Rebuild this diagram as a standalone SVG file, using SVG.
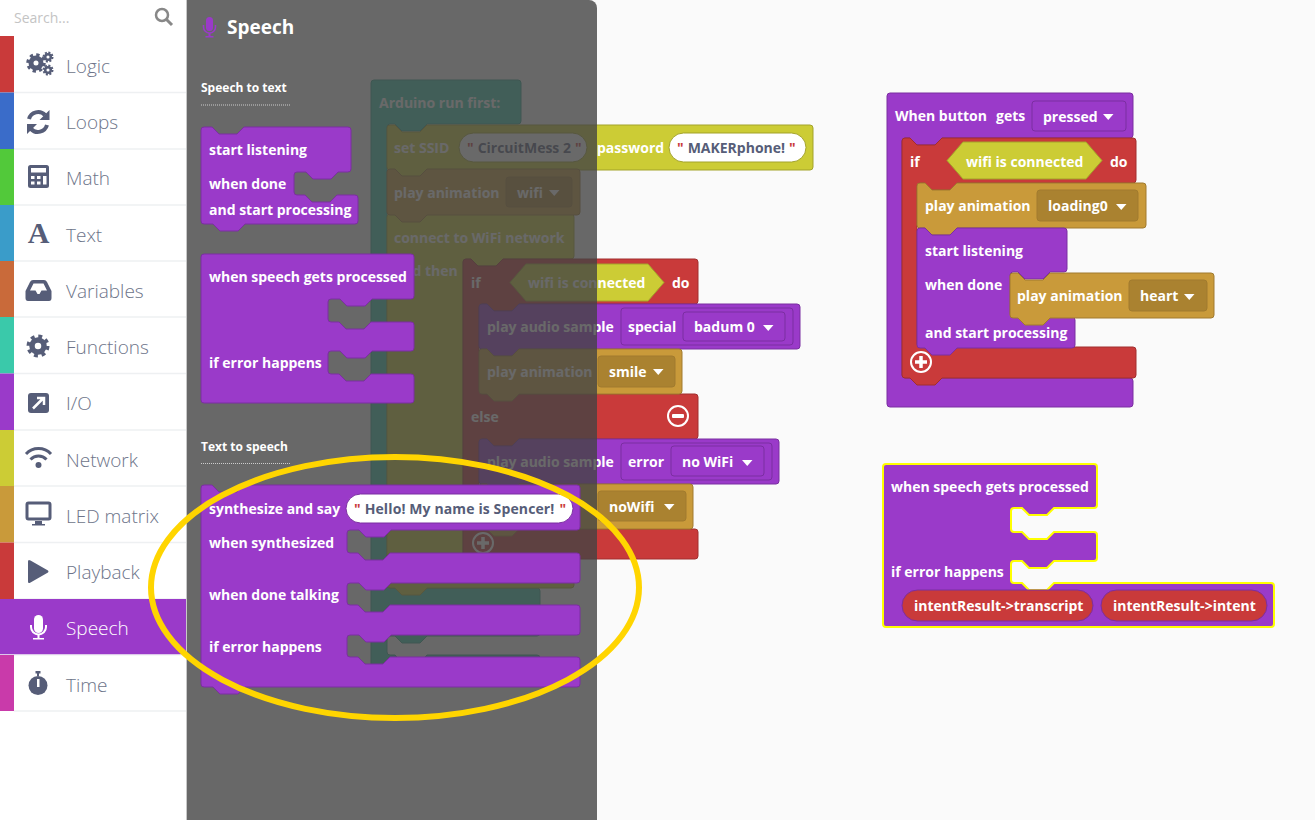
<svg xmlns="http://www.w3.org/2000/svg" width="1315" height="820" viewBox="0 0 1315 820">
<style>
.t{font-family:"Open Sans","Noto Sans","Liberation Sans",sans-serif;font-weight:700;font-size:14px;fill:#fff}
.d{fill:#565d78}
.nav{font-family:"Open Sans","Noto Sans","Liberation Sans",sans-serif;font-weight:300;font-size:19px;fill:#6d7489}
.hd{font-family:"Open Sans","Noto Sans","Liberation Sans",sans-serif;font-weight:700;font-size:12px;fill:#fff}
.q{fill:#c93a3a}
.pu{fill:#9a3ac9;stroke:#7b2ea1}
.re{fill:#c93a3a;stroke:#a12e2e}
.go{fill:#c99a3a;stroke:#a17b2e}
.ye{fill:#cccc35;stroke:#a3a32a}
.te{fill:#3ac9aa;stroke:#2ea188}
.gf{fill:#aa8230;stroke:#a17b2e}
.pf{fill:#9a3ac9;stroke:#7b2ea1}
.wf{fill:#fff;stroke:#a3a32a}
.hi{fill:#9a3ac9;stroke:#ff0;stroke-width:2}
.ic{fill:#565d78}
.is{fill:none;stroke:#565d78}
.sep{stroke:#eef0f2;stroke-width:1.5}
</style>
<defs>
<path id="arr" d="M0 0h10.500l-5.250 6z" fill="#fff"/>
</defs>
<rect width="1315" height="820" fill="#fafafa"/>

<g id="workspace">
<g id="arduino-block">
<path class="te" d="M371 83a3 3 0 0 1 3-3H518a3 3 0 0 1 3 3V121a3 3 0 0 1-3 3H427l-7 7h-18l-7-7H390a3 3 0 0 0-3 3V585a3 3 0 0 0 3 3H537a3 3 0 0 1 3 3V633a3 3 0 0 1-3 3H427l-7 7h-18l-7-7H390a3 3 0 0 0-3 3V652a3 3 0 0 0 3 3h5l7 7h18l7-7H537a3 3 0 0 1 3 3V670H371Z"/>
<text class="t" x="379" y="108">Arduino run first:</text>
</g>
<g id="connect-block">
<path class="ye" d="M387 217a3 3 0 0 1 3-3H571a3 3 0 0 1 3 3V256a3 3 0 0 1-3 3H503l-7 7h-18l-7-7H466a3 3 0 0 0-3 3V556a3 3 0 0 0 3 3H571a3 3 0 0 1 3 3V585a3 3 0 0 1-3 3H427l-7 7h-18l-7-7H390a3 3 0 0 1-3-3Z"/>
<text class="t" x="394" y="243">connect to WiFi network</text>
<text class="t" x="412.500" y="276">d then</text>
</g>
<g id="ssid-block">
<path class="ye" d="M387 128a3 3 0 0 1 3-3h5l7 7h18l7-7H810a3 3 0 0 1 3 3V167a3 3 0 0 1-3 3H427l-7 7h-18l-7-7H390a3 3 0 0 1-3-3Z"/>
<text class="t" x="394" y="153">set SSID</text>
<rect class="wf" x="459" y="133" width="128" height="29" rx="14.500"/>
<text class="t" x="467" y="153"><tspan class="q">"</tspan><tspan class="d" dx="4">CircuitMess 2</tspan><tspan class="q" dx="4">"</tspan></text>
<text class="t" x="597" y="153">password</text>
<rect class="wf" x="669" y="133" width="137" height="29" rx="14.500"/>
<text class="t" x="677" y="153"><tspan class="q">"</tspan><tspan class="d" dx="4">MAKERphone!</tspan><tspan class="q" dx="4">"</tspan></text>
</g>
<g id="anim-wifi-block">
<path class="go" d="M387 172a3 3 0 0 1 3-3h5l7 7h18l7-7H577a3 3 0 0 1 3 3V212a3 3 0 0 1-3 3H427l-7 7h-18l-7-7H390a3 3 0 0 1-3-3Z"/>
<text class="t" x="394" y="198">play animation</text>
<rect class="gf" x="506" y="177" width="66" height="30" rx="3"/>
<text class="t" x="517" y="198">wifi</text>
<use href="#arr" x="549" y="190"/>
</g>
<g id="if-block">
<path class="re" d="M463 262a3 3 0 0 1 3-3h5l7 7h18l7-7H695a3 3 0 0 1 3 3V301a3 3 0 0 1-3 3H519l-7 7h-18l-7-7H482a3 3 0 0 0-3 3V391a3 3 0 0 0 3 3H695a3 3 0 0 1 3 3V436a3 3 0 0 1-3 3H519l-7 7h-18l-7-7H482a3 3 0 0 0-3 3V526a3 3 0 0 0 3 3H695a3 3 0 0 1 3 3V556a3 3 0 0 1-3 3H466a3 3 0 0 1-3-3Z"/>
<text class="t" x="471" y="288">if</text>
<path class="ye" d="M510 282.500L526 264H648L664 282.500L648 301H526Z"/>
<text class="t" x="528" y="288">wifi is connected</text>
<text class="t" x="672" y="288">do</text>
<text class="t" x="471" y="422">else</text>
<circle cx="678" cy="416" r="10" fill="none" stroke="#fff" stroke-width="2"/>
<rect x="672" y="414" width="12" height="4" rx="1" fill="#fff"/>
<circle cx="483" cy="543" r="10" fill="none" stroke="#fff" stroke-width="2"/>
<path d="M477 543h12M483 537v12" stroke="#fff" stroke-width="3.500"/>
</g>
<g id="audio-special">
<path class="pu" d="M479 307a3 3 0 0 1 3-3h5l7 7h18l7-7H797a3 3 0 0 1 3 3V346a3 3 0 0 1-3 3H519l-7 7h-18l-7-7H482a3 3 0 0 1-3-3Z"/>
<text class="t" x="487" y="332">play audio sample</text>
<rect class="pf" x="621" y="308" width="172" height="37" rx="3"/>
<text class="t" x="628" y="332">special</text>
<rect class="pf" x="683" y="312" width="102" height="29" rx="3"/>
<text class="t" x="694" y="332">badum 0</text>
<use href="#arr" x="763" y="325"/>
</g>
<g id="anim-smile">
<path class="go" d="M479 352a3 3 0 0 1 3-3h5l7 7h18l7-7H679a3 3 0 0 1 3 3V391a3 3 0 0 1-3 3H519l-7 7h-18l-7-7H482a3 3 0 0 1-3-3Z"/>
<text class="t" x="487" y="377">play animation</text>
<rect class="gf" x="598" y="356" width="77" height="31" rx="3"/>
<text class="t" x="609" y="377">smile</text>
<use href="#arr" x="653" y="369"/>
</g>
<g id="audio-error">
<path class="pu" d="M479 442a3 3 0 0 1 3-3h5l7 7h18l7-7H776a3 3 0 0 1 3 3V481a3 3 0 0 1-3 3H519l-7 7h-18l-7-7H482a3 3 0 0 1-3-3Z"/>
<text class="t" x="487" y="467">play audio sample</text>
<rect class="pf" x="621" y="443" width="151" height="37" rx="3"/>
<text class="t" x="628" y="467">error</text>
<rect class="pf" x="671" y="446" width="93" height="30" rx="3"/>
<text class="t" x="682" y="467">no WiFi</text>
<use href="#arr" x="742" y="460"/>
</g>
<g id="anim-nowifi">
<path class="go" d="M479 487a3 3 0 0 1 3-3h5l7 7h18l7-7H690a3 3 0 0 1 3 3V526a3 3 0 0 1-3 3H519l-7 7h-18l-7-7H482a3 3 0 0 1-3-3Z"/>
<rect class="gf" x="598" y="491" width="88" height="30" rx="3"/>
<text class="t" x="609" y="512">noWifi</text>
<use href="#arr" x="664" y="504"/>
</g>

<g id="button-block">
<path class="pu" d="M887 96a3 3 0 0 1 3-3H1130a3 3 0 0 1 3 3V135a3 3 0 0 1-3 3H942l-7 7h-18l-7-7H905a3 3 0 0 0-3 3V375a3 3 0 0 0 3 3H1130a3 3 0 0 1 3 3V404a3 3 0 0 1-3 3H890a3 3 0 0 1-3-3Z"/>
<text class="t" x="895" y="121">When button</text>
<text class="t" x="996" y="121">gets</text>
<rect class="pf" x="1032" y="101" width="94" height="30" rx="3"/>
<text class="t" x="1043" y="122">pressed</text>
<use href="#arr" x="1103" y="114"/>
</g>
<g id="if-wifi">
<path class="re" d="M902 141a3 3 0 0 1 3-3h5l7 7h18l7-7H1133a3 3 0 0 1 3 3V180a3 3 0 0 1-3 3H957l-7 7h-18l-7-7H920a3 3 0 0 0-3 3V344a3 3 0 0 0 3 3H1133a3 3 0 0 1 3 3V375a3 3 0 0 1-3 3H942l-7 7h-18l-7-7H905a3 3 0 0 1-3-3Z"/>
<text class="t" x="910" y="167">if</text>
<path class="ye" d="M947 160.500L963 142H1086L1102 160.500L1086 179H963Z"/>
<text class="t" x="966" y="167">wifi is connected</text>
<text class="t" x="1110" y="167">do</text>
<circle cx="921" cy="362" r="10" fill="none" stroke="#fff" stroke-width="2"/>
<path d="M915 362h12M921 356v12" stroke="#fff" stroke-width="3.500"/>
</g>
<g id="anim-loading">
<path class="go" d="M917 186a3 3 0 0 1 3-3h5l7 7h18l7-7H1143a3 3 0 0 1 3 3V225a3 3 0 0 1-3 3H957l-7 7h-18l-7-7H920a3 3 0 0 1-3-3Z"/>
<text class="t" x="925" y="211">play animation</text>
<rect class="gf" x="1037" y="190" width="101" height="31" rx="3"/>
<text class="t" x="1048" y="211">loading0</text>
<use href="#arr" x="1116" y="204"/>
</g>
<g id="listen-block">
<path class="pu" d="M917 231a3 3 0 0 1 3-3h5l7 7h18l7-7H1064a3 3 0 0 1 3 3V269a3 3 0 0 1-3 3H1050l-7 7h-18l-7-7H1013a3 3 0 0 0-3 3V314a3 3 0 0 0 3 3H1072a3 3 0 0 1 3 3V345a3 3 0 0 1-3 3H957l-7 7h-18l-7-7H920a3 3 0 0 1-3-3Z"/>
<text class="t" x="925" y="256">start listening</text>
<text class="t" x="925" y="290">when done</text>
<text class="t" x="925" y="338">and start processing</text>
</g>
<g id="anim-heart">
<path class="go" d="M1010 276a3 3 0 0 1 3-3h5l7 7h18l7-7H1211a3 3 0 0 1 3 3V315a3 3 0 0 1-3 3H1050l-7 7h-18l-7-7H1013a3 3 0 0 1-3-3Z"/>
<text class="t" x="1017" y="301">play animation</text>
<rect class="gf" x="1129" y="280" width="78" height="31" rx="3"/>
<text class="t" x="1140" y="301">heart</text>
<use href="#arr" x="1184" y="294"/>
</g>

<g id="selected-block">
<path class="hi" d="M883 467a3 3 0 0 1 3-3H1094a3 3 0 0 1 3 3V505a3 3 0 0 1-3 3H1054l-7 7h-18l-7-7H1014a3 3 0 0 0-3 3V529a3 3 0 0 0 3 3h8l7 7h18l7-7H1094a3 3 0 0 1 3 3V558a3 3 0 0 1-3 3H1054l-7 7h-18l-7-7H1014a3 3 0 0 0-3 3V580a3 3 0 0 0 3 3h8l7 7h18l7-7H1271a3 3 0 0 1 3 3V624a3 3 0 0 1-3 3H886a3 3 0 0 1-3-3Z"/>
<text class="t" x="891" y="492">when speech gets processed</text>
<text class="t" x="891" y="577">if error happens</text>
<rect class="re" x="902" y="590" width="191" height="31" rx="15.500" style="stroke:#7b2ea1"/>
<text class="t" x="914" y="611">intentResult-&gt;transcript</text>
<rect class="re" x="1101" y="590" width="166" height="31" rx="15.500" style="stroke:#7b2ea1"/>
<text class="t" x="1113" y="611">intentResult-&gt;intent</text>
</g>
</g>

<path id="flyout-bg" d="M187 0H589a8 8 0 0 1 8 8V820H187Z" fill="#444" fill-opacity=".8"/>

<g id="flyout">
<g id="flyout-title">
<g fill="#9a3ac9"><rect x="206" y="17" width="7" height="14" rx="3.500"/><path d="M203.500 25v2a6 6 0 0 0 12 0v-2" fill="none" stroke="#9a3ac9" stroke-width="1.500"/><path d="M208.500 33h2v3h3v1.500h-8v-1.500h3Z"/></g>
<text x="227" y="34" font-family="Open Sans,Noto Sans,sans-serif" font-weight="700" font-size="19" fill="#fff">Speech</text>
<text class="hd" x="201" y="92">Speech to text</text>
<path d="M201 105H290" stroke="#ccc" stroke-dasharray="1 1"/>
<text class="hd" x="201" y="451">Text to speech</text>
<path d="M201 463.500H290" stroke="#ccc" stroke-dasharray="1 1"/>
</g>
<g id="fly-listen">
<path class="pu" d="M201 130a3 3 0 0 1 3-3h8l7 7h18l7-7H348a3 3 0 0 1 3 3V169a3 3 0 0 1-3 3H338l-7 7h-18l-7-7H297a3 3 0 0 0-3 3V192a3 3 0 0 0 3 3h8l7 7h18l7-7H355a3 3 0 0 1 3 3V221a3 3 0 0 1-3 3H245l-7 7h-18l-7-7H204a3 3 0 0 1-3-3Z"/>
<text class="t" x="209" y="155">start listening</text>
<text class="t" x="209" y="189">when done</text>
<text class="t" x="209" y="215">and start processing</text>
</g>
<g id="fly-processed">
<path class="pu" d="M201 257a3 3 0 0 1 3-3H411a3 3 0 0 1 3 3V296a3 3 0 0 1-3 3H372l-7 7h-18l-7-7H331a3 3 0 0 0-3 3V319a3 3 0 0 0 3 3h8l7 7h18l7-7H411a3 3 0 0 1 3 3V348a3 3 0 0 1-3 3H372l-7 7h-18l-7-7H331a3 3 0 0 0-3 3V371a3 3 0 0 0 3 3h8l7 7h18l7-7H411a3 3 0 0 1 3 3V400a3 3 0 0 1-3 3H204a3 3 0 0 1-3-3Z"/>
<text class="t" x="209" y="282">when speech gets processed</text>
<text class="t" x="209" y="368">if error happens</text>
</g>
<g id="fly-synth">
<path class="pu" d="M201 488a3 3 0 0 1 3-3h8l7 7h18l7-7H577a3 3 0 0 1 3 3V527a3 3 0 0 1-3 3H391l-7 7h-18l-7-7H350a3 3 0 0 0-3 3V550a3 3 0 0 0 3 3h8l7 7h18l7-7H577a3 3 0 0 1 3 3V580a3 3 0 0 1-3 3H391l-7 7h-18l-7-7H350a3 3 0 0 0-3 3V602a3 3 0 0 0 3 3h8l7 7h18l7-7H577a3 3 0 0 1 3 3V632a3 3 0 0 1-3 3H391l-7 7h-18l-7-7H350a3 3 0 0 0-3 3V654a3 3 0 0 0 3 3h8l7 7h18l7-7H577a3 3 0 0 1 3 3V684a3 3 0 0 1-3 3H245l-7 7h-18l-7-7H204a3 3 0 0 1-3-3Z"/>
<text class="t" x="209" y="514">synthesize and say</text>
<rect x="346" y="494" width="227" height="29" rx="14.500" fill="#fff" stroke="#7b2ea1"/>
<text class="t" x="354" y="514"><tspan class="q">"</tspan><tspan class="d" dx="4" letter-spacing=".12">Hello! My name is Spencer!</tspan><tspan class="q" dx="5">"</tspan></text>
<text class="t" x="209" y="548">when synthesized</text>
<text class="t" x="209" y="600">when done talking</text>
<text class="t" x="209" y="652">if error happens</text>
</g>
</g>

<g id="sidebar">
<rect x="0" y="0" width="186" height="820" fill="#fff"/>
<rect x="186" y="0" width="1" height="820" fill="#c8c8c8"/>
<text x="14" y="23" font-family="Open Sans,Noto Sans,sans-serif" font-size="14" fill="#c4c4c4">Search...</text>
<circle cx="162" cy="15" r="6" fill="none" stroke="#888" stroke-width="2.500"/>
<path d="M166.500 19.500L172 25" stroke="#888" stroke-width="3"/>
<g id="cat-logic"><rect y="36" width="14" height="56.500" fill="#c93a3a"/><path class="sep" d="M14 92.500H186"/><g class="ic"><circle class="is" cx="36" cy="63" r="5" stroke-width="5"/><circle class="is" cx="36" cy="63" r="8" stroke-width="3.500" stroke-dasharray="3.200 3.080"/><circle class="is" cx="48" cy="57" r="2.800" stroke-width="2.500"/><circle class="is" cx="48" cy="70" r="2.800" stroke-width="2.500"/><circle class="is" cx="48" cy="57" r="4.500" stroke-width="2" stroke-dasharray="2 1.500"/><circle class="is" cx="48" cy="70" r="4.500" stroke-width="2" stroke-dasharray="2 1.500"/></g><text class="nav" x="66" y="73">Logic</text></g>
<g id="cat-loops"><rect y="92.500" width="14" height="56.500" fill="#3a6cc9"/><path class="sep" d="M14 149H186"/><path class="is" stroke-width="4" d="M29 119a9.500 9.500 0 0 1 16-4M47 125a9.500 9.500 0 0 1-16 4"/><path class="ic" d="M49.500 110v10h-10ZM27 134v-10h10Z"/><text class="nav" x="66" y="129">Loops</text></g>
<g id="cat-math"><rect y="149" width="14" height="56" fill="#52c93a"/><path class="sep" d="M14 205H186"/><rect class="ic" x="28" y="165" width="21" height="23" rx="2.500"/><rect x="31" y="168" width="15" height="4.500" fill="#fff"/><path d="M31 176h3.500v3H31ZM37 176h3.500v3H37ZM43 176h3.500v3H43ZM31 181.500h3.500v3H31ZM37 181.500h3.500v3H37ZM43 176h3.500v8.500H43Z" fill="#fff"/><text class="nav" x="66" y="185">Math</text></g>
<g id="cat-text"><rect y="205" width="14" height="56" fill="#3a9cc9"/><path class="sep" d="M14 261H186"/><text x="38.500" y="243" text-anchor="middle" font-family="Liberation Serif,serif" font-weight="700" font-size="30" fill="#565d78">A</text><text class="nav" x="66" y="242">Text</text></g>
<g id="cat-variables"><rect y="261" width="14" height="56" fill="#c96a3a"/><path class="sep" d="M14 317H186"/><path class="ic" fill-rule="evenodd" d="M33 280H44Q46 280 47 282L51.500 291V298Q51.500 301 49 301H28Q25.500 301 25.500 298V291L30 282Q31 280 33 280ZM33.500 283.500L30 290.500H35.500L37.500 294H39.500L41.500 290.500H47L43.500 283.500Z"/><text class="nav" x="66" y="298">Variables</text></g>
<g id="cat-functions"><rect y="317" width="14" height="56.500" fill="#3ac9aa"/><path class="sep" d="M14 373.500H186"/><circle class="is" cx="38" cy="346" r="6" stroke-width="5.500"/><circle class="is" cx="38" cy="346" r="9.500" stroke-width="4" stroke-dasharray="3.800 3.660"/><text class="nav" x="66" y="354">Functions</text></g>
<g id="cat-io"><rect y="373.500" width="14" height="56.500" fill="#9a3ac9"/><path class="sep" d="M14 430H186"/><rect class="ic" x="28" y="393" width="21" height="20" rx="3"/><path d="M33 408.500L43 398.500M37 398H44V405" fill="none" stroke="#fff" stroke-width="2.500"/><text class="nav" x="66" y="410">I/O</text></g>
<g id="cat-network"><rect y="430" width="14" height="56" fill="#cccc35"/><path class="sep" d="M14 486H186"/><path class="is" stroke-width="3" d="M26 454a17 17 0 0 1 25 0M30.500 459.500a11 11 0 0 1 16 0"/><circle class="ic" cx="38.500" cy="465" r="3"/><text class="nav" x="66" y="467">Network</text></g>
<g id="cat-led"><rect y="486" width="14" height="56.500" fill="#c99a3a"/><path class="sep" d="M14 542.500H186"/><rect class="is" x="27" y="503" width="23" height="16" rx="1.500" stroke-width="3"/><path class="ic" d="M35 521h7v3h3v1.500H32V524h3Z"/><text class="nav" x="66" y="523">LED matrix</text></g>
<g id="cat-playback"><rect y="542.500" width="14" height="56.500" fill="#c93a3a"/><path class="sep" d="M14 599H186"/><path class="ic" d="M28 561.500Q28 559 30.500 560.500L48 570.500Q49 571.500 48 572.500L30.500 582.500Q28 584 28 581.500Z"/><text class="nav" x="66" y="579">Playback</text></g>
<g id="cat-speech"><rect y="599" width="186" height="55.500" fill="#9a3ac9"/><path d="M0 655H186" stroke="#eef0f2" stroke-width="1"/><g fill="#fff"><rect x="34" y="615" width="9" height="18" rx="4.500"/><path d="M31 625v2a7.500 7.500 0 0 0 15 0v-2" fill="none" stroke="#fff" stroke-width="2"/><path d="M37.500 634h2v4h4.500v1.500H33V638h4.500Z"/></g><text class="nav" x="66" y="635" style="fill:#fff">Speech</text></g>
<g id="cat-time"><rect y="655" width="14" height="56" fill="#c93aaa"/><path class="sep" d="M14 711H186"/><circle class="ic" cx="38" cy="685.500" r="9.500"/><rect class="ic" x="35.500" y="671" width="5" height="2.500"/><rect class="ic" x="37" y="673" width="2" height="3"/><rect x="37" y="679" width="2.500" height="8" fill="#fff"/><text class="nav" x="66" y="692">Time</text></g>
</g>

<ellipse id="highlight" cx="395" cy="587.500" rx="244" ry="130.500" fill="none" stroke="#ffd500" stroke-width="6"/>
</svg>
